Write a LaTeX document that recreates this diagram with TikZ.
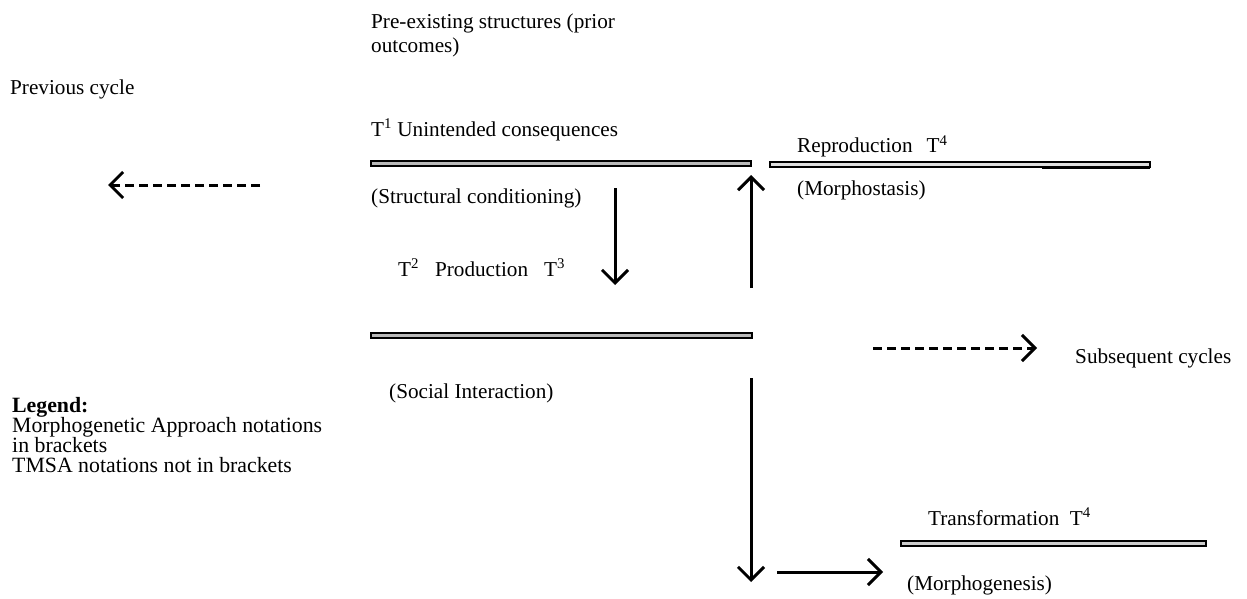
\documentclass[tikz,border=0pt]{standalone}
\usepackage{fontspec}
\setmainfont{Liberation Serif}
\usetikzlibrary{arrows.meta}
\begin{document}
\begin{tikzpicture}[x=1pt,y=-1pt,
  lbl/.style={anchor=base west,inner sep=0pt,font=\fontsize{21.2}{24}\selectfont},
  leglbl/.style={lbl,font=\fontsize{21.8}{24}\selectfont},
  bar/.style={draw=black,line width=1.2pt,fill=gray!55},
  arr/.style={line width=3pt,-{Straight Barb[length=13pt,width=26pt]}},
  darr/.style={arr,dash pattern=on 9pt off 5pt}]
\useasboundingbox (0,0) rectangle (1247,599);
% bars
\draw[bar] (371,161) rectangle (751,166);
\draw[bar,fill=gray!25] (770,162) rectangle (1150,167);
\draw[line width=3pt] (1042,167.5) -- (1150,167.5);
\draw[bar] (371,333) rectangle (752,338);
\draw[bar,fill=gray!40] (901,541) rectangle (1206,546);
% texts
\node[lbl] (pre1) at (371,29) {Pre-existing structures (prior};
\node[lbl] (pre2) at (371,53) {outcomes)};
\node[lbl] (prev) at (10,95) {Previous cycle};
\node[lbl] (unint) at (371,136) {T\textsuperscript{1} Unintended consequences};
\node[lbl] (repro) at (797,153) {Reproduction\hspace{14pt}T\textsuperscript{4}};
\node[lbl] (struct) at (371,203) {(Structural conditioning)};
\node[lbl] (mstasis) at (797,195) {(Morphostasis)};
\node[lbl] (prod) at (398,276) {T\textsuperscript{2}\hspace{16pt}Production\hspace{16pt}T\textsuperscript{3}};
\node[lbl] (social) at (389,398) {(Social Interaction)};
\node[lbl] (subs) at (1075,363) {Subsequent cycles};
\node[leglbl,font=\fontsize{21.8}{24}\selectfont\bfseries] (leg) at (12,412) {Legend:};
\node[leglbl] (leg1) at (12,432) {Morphogenetic Approach notations};
\node[leglbl] (leg2) at (12,452) {in brackets};
\node[leglbl] (leg3) at (12,472) {TMSA notations not in brackets};
\node[lbl] (trans) at (928,525) {Transformation\enspace T\textsuperscript{4}};
\node[lbl] (mgen) at (907,590) {(Morphogenesis)};
% arrow endpoints
\coordinate (pa) at (260,185); \coordinate (pb) at (108,185);
\coordinate (da) at (615,188); \coordinate (db) at (615,285);
\coordinate (ua) at (751,288); \coordinate (ub) at (751,175);
\coordinate (ta) at (751,378); \coordinate (tb) at (751,582);
\coordinate (ra) at (777,572); \coordinate (rb) at (883,572);
\coordinate (sa) at (873,348); \coordinate (sb) at (1037,348);
\draw[darr] (pa) -- (pb);
\draw[arr] (da) -- (db);
\draw[arr] (ua) -- (ub);
\draw[arr] (ta) -- (tb);
\draw[arr] (ra) -- (rb);
\draw[darr] (sa) -- (sb);
\end{tikzpicture}
\end{document}
